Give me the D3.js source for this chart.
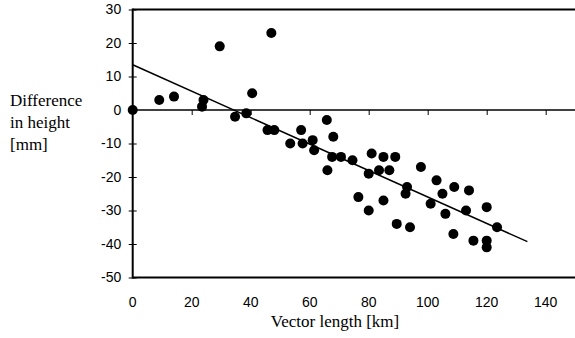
<!DOCTYPE html>
<html><head><meta charset="utf-8">
<script src="https://cdn.jsdelivr.net/npm/d3@7"></script>
<style>body{margin:0;background:#fff}svg{display:block}</style>
</head><body>
<svg id="c" width="575" height="338"></svg>
<script>
const xVals = [0,9,14,24,23.5,29.5,47,40.5,34.7,38.5,45.7,48,53.4,57.1,57.6,61,65.8,68,61.5,66,67.6,70.6,74.5,81,85,89,80,83.5,87,76.5,80,85,93,92.5,89.5,94,97.7,101,103,105,106,109,108.7,113,114,115.5,120,120,120,123.5];
const yVals = [0,3,4,3,1,19,23,5,-2,-1,-6,-6,-10,-6,-10,-9,-3,-8,-12,-18,-14,-14,-15,-13,-14,-14,-19,-18,-18,-26,-30,-27,-23,-25,-34,-35,-17,-28,-21,-25,-31,-23,-37,-30,-24,-39,-29,-39,-41,-35];
const fitX = [0,133.8];
const fitY = [13.5,-39.3];
const xTicks = [0,20,40,60,80,100,120,140];
const yTicks = [30,20,10,0,-10,-20,-30,-40,-50];

const svg = d3.select("#c");
const x = d3.scaleLinear().domain([0,150]).range([132.7,575.2]);
const y = d3.scaleLinear().domain([-50,30]).range([277.5,9.5]);

// frame lines
svg.append("line").attr("x1",x(0)).attr("x2",575).attr("y1",y(30)).attr("y2",y(30)).attr("stroke","#000").attr("stroke-width",2);
svg.append("line").attr("x1",x(0)).attr("x2",575).attr("y1",y(-50)).attr("y2",y(-50)).attr("stroke","#000").attr("stroke-width",2);

// x axis on zero line
const xAxis = d3.axisBottom(x).tickValues(xTicks).tickSize(5).tickFormat("");
const gx = svg.append("g").attr("transform",`translate(0,${y(0)})`).call(xAxis);
gx.select(".domain").remove();
gx.selectAll(".tick line").attr("stroke","#000");
svg.append("line").attr("x1",x(0)).attr("x2",575).attr("y1",y(0)).attr("y2",y(0)).attr("stroke","#000").attr("stroke-width",1.3);

// x tick labels at bottom
svg.append("g").selectAll("text").data(xTicks).join("text")
  .attr("x",d=>x(d)).attr("y",307).attr("text-anchor","middle")
  .attr("font-family","'Liberation Sans', Arial, sans-serif").attr("font-size",14)
  .text(d=>d);

// y axis
const yAxis = d3.axisLeft(y).tickValues(yTicks).tickSizeInner(4).tickSizeOuter(0).tickPadding(6).tickFormat(d=>d);
const gy = svg.append("g").attr("transform",`translate(${x(0)},0)`).call(yAxis);
gy.select(".domain").remove();
gy.selectAll(".tick line").attr("stroke","#000").attr("x1",4).attr("x2",-4);
gy.selectAll(".tick text").attr("font-family","'Liberation Sans', Arial, sans-serif").attr("font-size",14).attr("fill","#000").attr("x",-11.5);
svg.append("line").attr("x1",x(0)).attr("x2",x(0)).attr("y1",y(30)-1).attr("y2",y(-50)+1).attr("stroke","#000").attr("stroke-width",2);

// regression line
svg.append("line").attr("x1",x(fitX[0])).attr("y1",y(fitY[0])).attr("x2",x(fitX[1])).attr("y2",y(fitY[1]))
  .attr("stroke","#000").attr("stroke-width",1.5);

// points
svg.append("g").selectAll("circle").data(xVals.map((v,i)=>[v,yVals[i]])).join("circle")
  .attr("cx",d=>x(d[0])).attr("cy",d=>y(d[1])).attr("r",5).attr("fill","#000");

// titles
svg.append("text").attr("x",335).attr("y",327).attr("text-anchor","middle")
  .attr("font-family","'Liberation Serif', 'Times New Roman', serif").attr("font-size",17).text("Vector length [km]");
const yt = svg.append("text").attr("font-family","'Liberation Serif', 'Times New Roman', serif").attr("font-size",17);
[["Difference",106],["in height",128],["[mm]",150]].forEach(([t,yy])=>yt.append("tspan").attr("x",10).attr("y",yy).text(t));
</script>
</body></html>
